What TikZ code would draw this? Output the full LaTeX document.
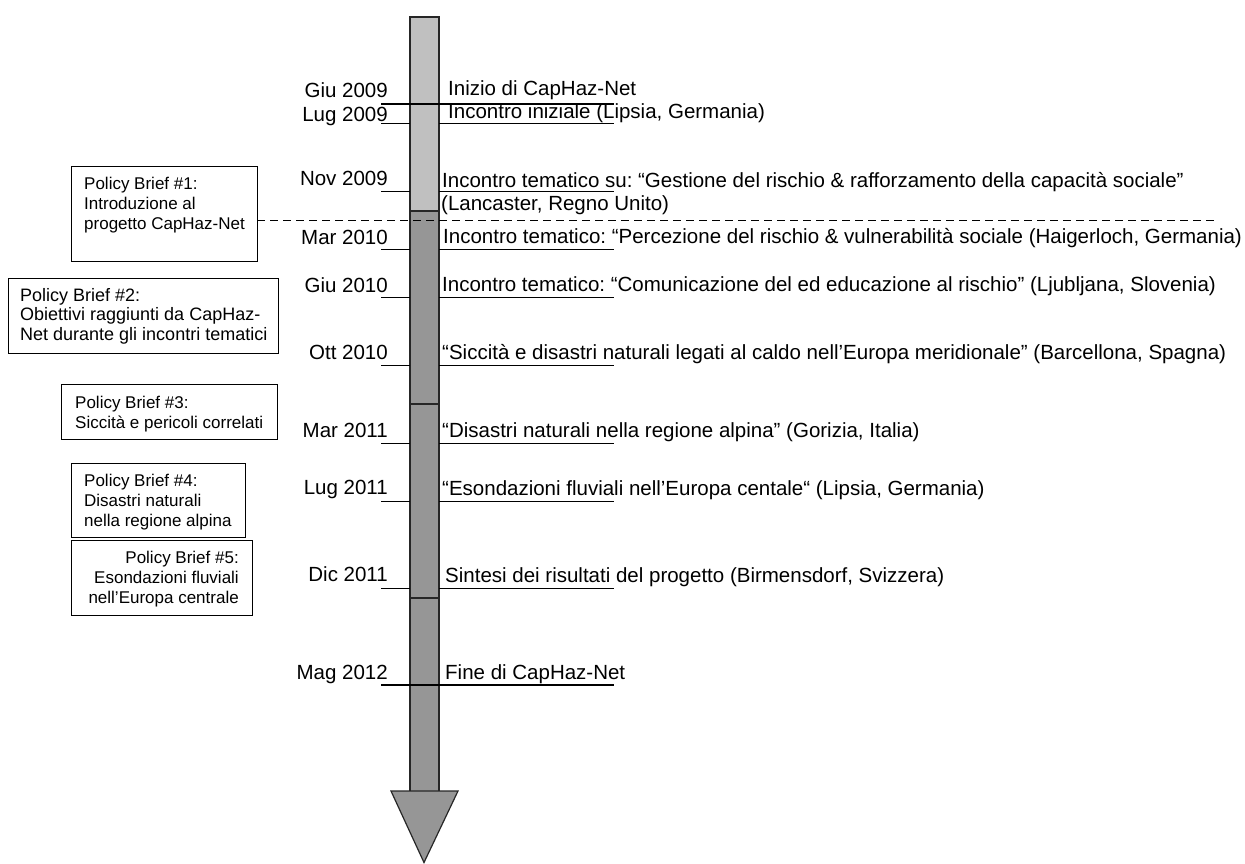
\documentclass[tikz,border=0pt]{standalone}
\usepackage{fontspec}
\setmainfont{Liberation Sans}
\usepackage{tikz}
\usepackage{xcolor}
\definecolor{barlight}{HTML}{C0C0C0}
\definecolor{bardark}{HTML}{969696}

\begin{document}
\frenchspacing
\begin{tikzpicture}[x=1pt,y=-1pt,every node/.style={inner sep=0pt},
  datelbl/.style={anchor=base east,font=\fontsize{20.5}{23.5}\selectfont},
  eventlbl/.style={anchor=base west,font=\fontsize{20.5}{23.5}\selectfont},
  brieftxt/.style={anchor=north west,align=left,font=\fontsize{17}{20}\selectfont}]
\useasboundingbox (0,0) rectangle (1245,863);
% timeline bar
\fill[barlight] (410,17) rectangle (439,211);
\fill[bardark] (410,211) rectangle (439,791);
\draw[line width=1.5pt,black!85] (410,791) -- (410,17) -- (439,17) -- (439,791);
\draw[line width=1.5pt,black!85] (410,211) -- (439,211);
\draw[line width=1.5pt,black!85] (410,404) -- (439,404);
\draw[line width=1.5pt,black!85] (410,598) -- (439,598);
\filldraw[fill=bardark,draw=black!85,line width=1.2pt] (391,791) -- (458,791) -- (424,862.5) -- cycle;
% ticks
\draw[line width=2.2pt] (381,104) -- (614,104);
\draw (381,123) -- (410,123); \draw (439,123) -- (614,123);
\draw (381,191) -- (410,191); \draw (439,191) -- (614,191);
\draw (381,249) -- (410,249); \draw (439,249) -- (614,249);
\draw (381,297) -- (410,297); \draw (439,297) -- (614,297);
\draw (381,365) -- (410,365); \draw (439,365) -- (614,365);
\draw (381,443) -- (410,443); \draw (439,443) -- (614,443);
\draw (381,501) -- (410,501); \draw (439,501) -- (614,501);
\draw (381,588) -- (410,588); \draw (439,588) -- (614,588);
\draw[line width=2.2pt] (381,685) -- (614,685);
% dates
\node[datelbl] (d1) at (388,97) {Giu 2009};
\node[datelbl] (d2) at (388,121) {Lug 2009};
\node[datelbl] (d3) at (388,185) {Nov 2009};
\node[datelbl] (d4) at (388,244) {Mar 2010};
\node[datelbl] (d5) at (388,292) {Giu 2010};
\node[datelbl] (d6) at (388,359) {Ott 2010};
\node[datelbl] (d7) at (388,437) {Mar 2011};
\node[datelbl] (d8) at (388,494) {Lug 2011};
\node[datelbl] (d9) at (388,581) {Dic 2011};
\node[datelbl] (d10) at (388,679) {Mag 2012};
% events
\node[eventlbl] (e1) at (448,95) {Inizio di CapHaz-Net};
\node[eventlbl] (e2) at (448,118) {Incontro iniziale (Lipsia, Germania)};
\node[eventlbl] (e3) at (442,187) {Incontro tematico su: “Gestione del rischio \& rafforzamento della capacità sociale”};
\node[eventlbl] (e3b) at (441,210) {(Lancaster, Regno Unito)};
\node[eventlbl] (e4) at (443,243) {Incontro tematico: “Percezione del rischio \& vulnerabilità sociale (Haigerloch, Germania)};
\node[eventlbl] (e5) at (442,291) {Incontro tematico: “Comunicazione del ed educazione al rischio” (Ljubljana, Slovenia)};
\node[eventlbl] (e6) at (442,359) {“Siccità e disastri naturali legati al caldo nell’Europa meridionale” (Barcellona, Spagna)};
\node[eventlbl] (e7) at (442,437) {“Disastri naturali nella regione alpina” (Gorizia, Italia)};
\node[eventlbl] (e8) at (442,495) {“Esondazioni fluviali nell’Europa centale“ (Lipsia, Germania)};
\node[eventlbl] (e9) at (445,582) {Sintesi dei risultati del progetto (Birmensdorf, Svizzera)};
\node[eventlbl] (e10) at (445,679) {Fine di CapHaz-Net};
% project phase separator
\draw[dash pattern=on 8pt off 5pt] (257,220) -- (1215,220);
% policy briefs
\draw (71,166) rectangle (257,261);
\node[brieftxt] (pb1) at (84,176.5) {Policy Brief \#1:\\Introduzione al\\progetto CapHaz-Net};
\draw (8,278) rectangle (278,353);
\node[brieftxt,font=\fontsize{18}{19.5}\selectfont] (pb2) at (20,288) {Policy Brief \#2:\\Obiettivi raggiunti da CapHaz-\\Net durante gli incontri tematici};
\draw (61,384) rectangle (277,439);
\node[brieftxt] (pb3) at (75,395.5) {Policy Brief \#3:\\Siccità e pericoli correlati};
\draw (71,463) rectangle (245,537);
\node[brieftxt] (pb4) at (84,473.5) {Policy Brief \#4:\\Disastri naturali\\nella regione alpina};
\draw (71,540) rectangle (252,615);
\node[brieftxt,anchor=north east,align=right] (pb5) at (239,550.5) {Policy Brief \#5:\\Esondazioni fluviali\\nell’Europa centrale};
\end{tikzpicture}
\end{document}
